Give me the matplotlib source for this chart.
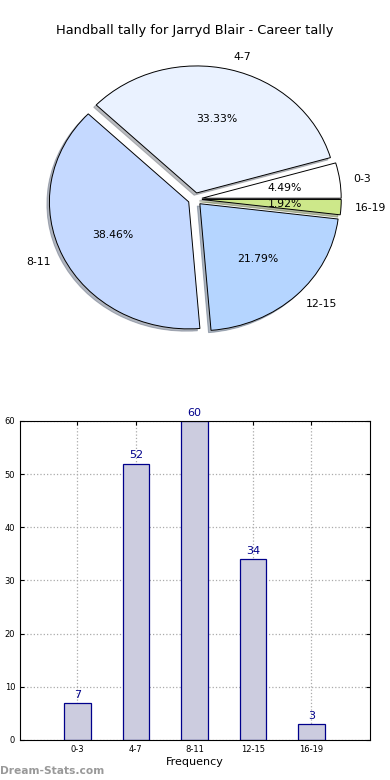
import matplotlib

matplotlib.use("Agg")

import matplotlib.pyplot as plt

categories = ["0-3", "4-7", "8-11", "12-15", "16-19"]
counts = [7, 52, 60, 34, 3]
pie_colors = ["#ffffff", "#eaf2ff", "#c5d9ff", "#b5d5ff", "#cde88a"]
yticks = [0, 10, 20, 30, 40, 50, 60]

fig = plt.figure(figsize=(3.9, 7.8), dpi=100)

# pie on top, stretched a bit like the original
ax_pie = fig.add_axes([0.0, 0.5167, 1.0, 0.456])
wedges, texts, autotexts = ax_pie.pie(
    counts,
    labels=categories,
    colors=pie_colors,
    explode=[0.05] * len(counts),
    startangle=0,
    autopct="%.2f%%",
    shadow={"ox": -0.013, "oy": -0.013, "shade": 0.5},
    labeldistance=1.1,
    pctdistance=0.6,
    wedgeprops={"edgecolor": "black", "linewidth": 0.7},
    textprops={"fontsize": 7.8},
)
ax_pie.set_aspect("auto")
ax_pie.set_xlim(-1.4, 1.4)
ax_pie.set_ylim(-1.4, 1.4)
fig.text(0.5, 0.9615, "Handball tally for Jarryd Blair - Career tally",
         ha="center", va="center", fontsize=9.4)

# bar chart below
ax_bar = fig.add_axes([0.0513, 0.0513, 0.8974, 0.409])
positions = list(range(1, len(counts) + 1))
bars = ax_bar.bar(positions, counts, width=0.45, color="#ccccdf",
                  edgecolor="#00008b", linewidth=0.9, zorder=2)
for x, v in zip(positions, counts):
    ax_bar.text(x, v + 0.6, str(v), ha="center", va="bottom",
                fontsize=8, color="#00008b")
ax_bar.set_xlim(0.02, 6)
ax_bar.set_ylim(0, 60)
ax_bar.set_xticks(positions)
ax_bar.set_xticklabels(categories)
ax_bar.set_yticks(yticks)
ax_bar.tick_params(labelsize=6, direction="in", top=True, right=True, length=3)
ax_bar.grid(True, linestyle=":", color="#aaaaaa", linewidth=0.9, zorder=0)
ax_bar.set_axisbelow(True)
ax_bar.set_xlabel("Frequency", fontsize=8, labelpad=2)

fig.text(0.0, 0.011, "Dream-Stats.com", ha="left", va="center",
         fontsize=7.7, color="#999999", fontweight="bold")

fig.savefig("out.png", dpi=100)
